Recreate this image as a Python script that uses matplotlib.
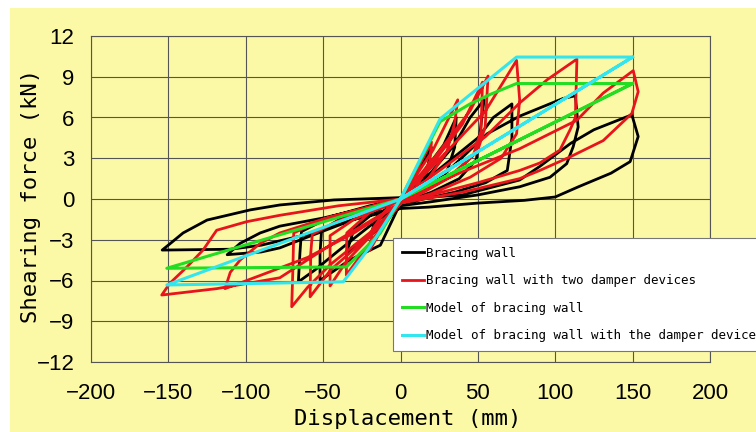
import matplotlib
matplotlib.use("Agg")
import matplotlib.pyplot as plt
from matplotlib.patches import Rectangle

# hysteresis loops (displacement mm, force kN)
black_x = [0, 10, 20, 17, 8, 0, -10, -20, -15, -5, 0,
           15, 28, 36, 35, 30, 18, 0, -15, -35, -30, -15, 0,
           20, 35, 45, 54, 51.5, 49, 38, 20, 0, -13, -33, -52, -52, -51, -35, -15, 0,
           25, 50, 60, 72, 72, 69, 55, 35, 15, 0, -20, -40, -55, -66, -65, -64, -45, -20, 0,
           30, 56, 77, 105, 113, 114.8, 111.6, 107.4, 96.6, 77, 50, 20, 0,
           -30, -60, -78, -90, -112, -103.7, -90.7, -78, -50, -20, 0,
           40, 77, 90, 110, 125, 149.5, 153.6, 148.4, 136, 115, 100, 80, 50, 18, 0,
           -30, -60, -90, -110, -154, -149, -140.5, -125, -97, -78, -43, 0]
black_y = [0, 1.8, 3.8, 2.0, 0.5, -0.2, -1.6, -2.8, -1.3, -0.3, 0,
           2.0, 4.0, 6.0, 3.8, 2.0, 0.8, -0.2, -2.2, -4.0, -2.2, -0.8, 0,
           2.0, 4.0, 6.0, 7.3, 5.0, 2.9, 1.5, 0.5, -0.3, -3.4, -4.5, -6.0, -4.0, -2.3, -1.2, -0.4, 0,
           2.2, 4.5, 6.0, 7.0, 4.5, 2.1, 1.2, 0.5, 0, -0.4, -2.0, -3.8, -5.2, -6.1, -4.0, -2.4, -1.3, -0.5, 0,
           2.0, 4.8, 6.1, 7.4, 7.6, 5.3, 3.85, 2.6, 1.6, 0.9, 0.3, -0.2, -0.5,
           -1.5, -2.8, -3.6, -3.9, -4.1, -3.27, -2.5, -2.0, -1.4, -0.6, 0,
           0.3, 1.4, 2.4, 4.1, 5.1, 6.2, 4.6, 2.75, 1.9, 0.9, 0.15, -0.1, -0.3, -0.6, -0.7,
           -1.5, -2.6, -3.4, -3.7, -3.76, -3.3, -2.5, -1.55, -0.8, -0.44, -0.07, 0.1]

red_x = [0, 10, 20, 19, 10, 0, -10, -20, -18, -8, 0,
         21, 37, 35, 30, 18, 5, 0, -15, -35, -34.7, -20, -5, 0,
         25, 45, 56.6, 54.7, 50, 35, 15, 0, -20, -35, -45.5, -45.5, -30, -10, 0,
         30, 55, 75, 77, 75, 65, 45, 20, 0, -25, -45, -58.4, -58, -57, -40, -15, 0,
         20, 40, 53, 52, 47, 30, 10, 0, -20, -45, -60, -70.3, -69.5, -69, -50, -20, 0,
         30, 55, 77, 95, 114, 113, 109.6, 103, 90, 77, 50, 20, 0,
         -30, -60, -90, -113.4, -110, -103.7, -90.7, -78, -45, 0,
         40, 77, 114, 131, 150.4, 153.6, 149.5, 131, 109.6, 90, 77, 40, 0,
         -40, -78, -118.8, -154.3, -149, -138, -127.6, -118.8, -99.4, -78, -40, 0]
red_y = [0, 2.0, 4.2, 2.8, 0.8, -0.3, -1.8, -3.8, -2.2, -0.6, 0,
         3.6, 7.3, 5.6, 3.5, 1.5, 0.2, -0.3, -2.5, -5.6, -2.5, -1.0, -0.3, 0,
         3.5, 6.5, 9.05, 5.3, 3.6, 1.8, 0.5, -0.3, -2.8, -4.6, -6.4, -2.7, -1.5, -0.5, 0,
         3.5, 6.5, 10.2, 7.3, 4.8, 3.0, 1.6, 0.4, -0.3, -3.2, -5.2, -7.2, -4.0, -2.6, -1.6, -0.6, 0,
         2.5, 5.5, 8.6, 5.0, 3.2, 1.5, 0.3, -0.3, -2.5, -4.8, -6.5, -7.93, -5.0, -2.5, -1.5, -0.6, 0,
         2.5, 4.6, 7.07, 8.8, 10.3, 6.0, 5.1, 3.6, 2.65, 2.1, 1.2, 0.3, -0.3,
         -2.5, -4.3, -5.6, -6.6, -5.4, -4.5, -3.27, -2.5, -1.3, 0,
         2.0, 3.7, 5.8, 7.8, 9.45, 7.9, 6.3, 4.3, 3.1, 2.1, 1.5, 0.5, -0.3,
         -3.0, -5.8, -6.6, -7.07, -6.2, -5.0, -3.76, -2.3, -1.67, -1.2, -0.5, 0]

green_x = [0, 25.6, 45, 58, 75, 150, 0, -13, -35, -151, 0, 150]
green_y = [0, 5.7, 7.0, 7.7, 8.5, 8.5, 0, -2.5, -5.0, -5.1, 0, 8.5]

cyan_x = [0, 25.6, 75, 150, 0, -19.6, -37, -151, 0, 150]
cyan_y = [0, 5.9, 10.45, 10.45, 0, -3.5, -6.1, -6.33, 0, 10.45]

labels = ["Bracing wall", "Bracing wall with two damper devices",
          "Model of bracing wall", "Model of bracing wall with the damper device"]

yellow = "#fcf9a6"
W, H = 756, 432

fig = plt.figure(figsize=(W / 100, H / 100), dpi=100, facecolor="white")
fig.patches.append(Rectangle((10 / W, 0), 1, 1 - 8 / H, transform=fig.transFigure,
                             facecolor=yellow, edgecolor="none", zorder=-10))
ax = fig.add_axes([91 / W, 1 - 362 / H, 619 / W, 326 / H])
ax.set_facecolor(yellow)

ax.plot(black_x, black_y, color="black", lw=2.0, label=labels[0])
ax.plot(red_x, red_y, color="#e8141c", lw=2.0, label=labels[1])
ax.plot(green_x, green_y, color="#22dd22", lw=2.2, label=labels[2])
ax.plot(cyan_x, cyan_y, color="#33e6ee", lw=2.2, label=labels[3])

ax.set_xlim(-200, 200)
ax.set_ylim(-12, 12)
ax.set_xticks(range(-200, 201, 50))
ax.set_yticks(range(-12, 13, 3))
ax.grid(True, color="#555555", lw=0.8)
ax.set_axisbelow(True)
for s in ax.spines.values():
    s.set_color("#555555")
    s.set_linewidth(0.8)
ax.tick_params(length=0, labelsize=16)
ax.tick_params(axis="x", pad=15)
ax.tick_params(axis="y", pad=12)
for t in ax.get_xticklabels() + ax.get_yticklabels():
    t.set_family("Liberation Sans")

ax.set_xlabel("Displacement (mm)", family="DejaVu Sans Mono", fontsize=16)
ax.xaxis.set_label_coords(0.512, -0.143)
ax.set_ylabel("Shearing force (kN)", family="DejaVu Sans Mono", fontsize=16)
ax.yaxis.set_label_coords(-0.08, 0.51)

leg = ax.legend(loc="upper left", bbox_to_anchor=(0.488, 0.380), borderaxespad=0,
                prop={"family": "DejaVu Sans Mono", "size": 9}, handlelength=1.8,
                handletextpad=0.1, labelspacing=1.15, borderpad=0.7,
                fancybox=False, framealpha=1, edgecolor="#777777")
leg.get_frame().set_linewidth(0.8)

fig.savefig("out.png", dpi=100)
